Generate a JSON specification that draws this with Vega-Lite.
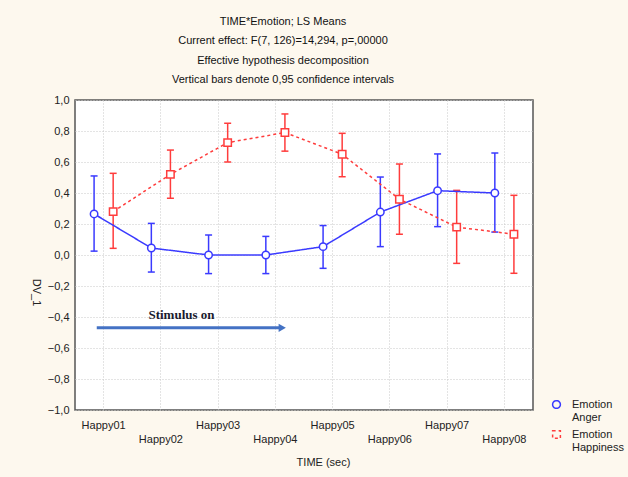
{
  "$schema": "https://vega.github.io/schema/vega-lite/v6.json",
  "width": 458,
  "height": 310,
  "autosize": {"type": "none"},
  "padding": {"left": 75, "top": 100, "right": 95, "bottom": 67},
  "background": "#fdf8ee",
  "config": {
    "view": {"fill": "white", "stroke": "#555555", "strokeWidth": 1.5},
    "font": "Liberation Sans",
    "axisY": {"labelOverlap": false, "tickCount": 10}
  },
  "title": {
    "text": ["TIME*Emotion; LS Means", "Current effect: F(7, 126)=14,294, p=,00000", "Effective hypothesis decomposition", "Vertical bars denote 0,95 confidence intervals"],
    "fontSize": 11,
    "fontWeight": "normal",
    "lineHeight": 19.5,
    "anchor": "middle",
    "frame": "group",
    "dx": -21,
    "offset": 9,
    "color": "#111111"
  },
  "datasets": {
    "means": [
      {"TIME": "Happy01", "Emotion": "Anger", "mean": 0.265, "lo": 0.025, "hi": 0.51},
      {"TIME": "Happy02", "Emotion": "Anger", "mean": 0.045, "lo": -0.11, "hi": 0.204},
      {"TIME": "Happy03", "Emotion": "Anger", "mean": 0.0, "lo": -0.12, "hi": 0.129},
      {"TIME": "Happy04", "Emotion": "Anger", "mean": 0.0, "lo": -0.12, "hi": 0.12},
      {"TIME": "Happy05", "Emotion": "Anger", "mean": 0.054, "lo": -0.086, "hi": 0.19},
      {"TIME": "Happy06", "Emotion": "Anger", "mean": 0.277, "lo": 0.054, "hi": 0.503},
      {"TIME": "Happy07", "Emotion": "Anger", "mean": 0.415, "lo": 0.183, "hi": 0.652},
      {"TIME": "Happy08", "Emotion": "Anger", "mean": 0.40, "lo": 0.148, "hi": 0.658},
      {"TIME": "Happy01", "Emotion": "Happiness", "mean": 0.28, "lo": 0.043, "hi": 0.527},
      {"TIME": "Happy02", "Emotion": "Happiness", "mean": 0.52, "lo": 0.366, "hi": 0.677},
      {"TIME": "Happy03", "Emotion": "Happiness", "mean": 0.725, "lo": 0.60, "hi": 0.85},
      {"TIME": "Happy04", "Emotion": "Happiness", "mean": 0.79, "lo": 0.67, "hi": 0.91},
      {"TIME": "Happy05", "Emotion": "Happiness", "mean": 0.65, "lo": 0.505, "hi": 0.785},
      {"TIME": "Happy06", "Emotion": "Happiness", "mean": 0.36, "lo": 0.134, "hi": 0.587},
      {"TIME": "Happy07", "Emotion": "Happiness", "mean": 0.18, "lo": -0.054, "hi": 0.417},
      {"TIME": "Happy08", "Emotion": "Happiness", "mean": 0.134, "lo": -0.118, "hi": 0.385}
    ],
    "arrow": [
      {"start": 0.38, "end": 3.6, "tip": 3.62, "level": -0.47}
    ],
    "note": [
      {"pos": 1.86, "level": -0.39, "label": "Stimulus on"}
    ]
  },
  "layer": [
    {
      "data": {"name": "means"},
      "encoding": {
        "x": {
          "field": "TIME", "type": "nominal",
          "scale": {"type": "band", "paddingInner": 0, "paddingOuter": 0},
          "axis": {
            "title": "TIME  (sec)",
            "bandPosition": 0.5,
            "labelAngle": 0,
            "labelFontSize": 11,
            "labelColor": "#222222",
            "labelBaseline": "top",
            "labelOverlap": false,
            "labelPadding": {"condition": {"test": "indexof(['Happy02','Happy04','Happy06','Happy08'], datum.value) >= 0", "value": 23}, "value": 9},
            "ticks": false,
            "domain": false,
            "grid": true,
            "gridDash": [1, 2],
            "gridColor": "#c8c8c8",
            "titleFontSize": 11,
            "titleFontWeight": "normal",
            "titleColor": "#222222",
            "titleX": 248,
            "titleY": 52,
            "titleBaseline": "middle",
            "titleAlign": "center"
          }
        },
        "xOffset": {"field": "Emotion", "type": "nominal", "scale": {"type": "point", "padding": 3.1}},
        "color": {
          "field": "Emotion", "type": "nominal",
          "scale": {"domain": ["Anger", "Happiness"], "range": ["#3a3aff", "#ff3c3c"]},
          "legend": {
            "title": null,
            "orient": "none",
            "legendX": 476,
            "legendY": 299,
            "labelExpr": "['Emotion', datum.label]",
            "labelFontSize": 11,
            "labelColor": "#222222",
            "labelOffset": 10,
            "symbolSize": 60,
            "symbolStrokeWidth": 1.5,
            "rowPadding": 4
          }
        }
      },
      "layer": [
        {
          "mark": {"type": "rule", "strokeWidth": 1.5},
          "encoding": {
            "y": {
              "field": "lo", "type": "quantitative",
              "scale": {"domain": [-1, 1], "nice": false},
              "axis": {
                "title": "DV_1",
                "tickCount": 10,
                "labelExpr": "replace(format(datum.value, '.1f'), '.', ',')",
                "labelFontSize": 11,
                "labelColor": "#222222",
                "labelPadding": 6,
                "labelOverlap": false,
                "ticks": false,
                "domain": false,
                "grid": true,
                "gridDash": [1, 2],
                "gridColor": "#c8c8c8",
                "titleAngle": 90,
                "titleFontSize": 11,
                "titleFontWeight": "normal",
                "titleColor": "#222222",
                "titleX": -40,
                "titleY": 192,
                "titleAlign": "center",
                "titleBaseline": "middle"
              }
            },
            "y2": {"field": "hi"}
          }
        },
        {
          "mark": {"type": "point", "shape": "stroke", "filled": false, "size": 49, "strokeWidth": 1.5, "opacity": 1},
          "encoding": {"y": {"field": "lo", "type": "quantitative"}}
        },
        {
          "mark": {"type": "point", "shape": "stroke", "filled": false, "size": 49, "strokeWidth": 1.5, "opacity": 1},
          "encoding": {"y": {"field": "hi", "type": "quantitative"}}
        },
        {
          "mark": {"type": "line", "strokeWidth": 1.5},
          "encoding": {
            "y": {"field": "mean", "type": "quantitative"},
            "strokeDash": {
              "field": "Emotion", "type": "nominal",
              "scale": {"domain": ["Anger", "Happiness"], "range": [[1, 0], [3, 3]]},
              "legend": null
            }
          }
        },
        {
          "mark": {"type": "point", "filled": false, "fill": "white", "strokeWidth": 1.5, "size": 55, "opacity": 1},
          "encoding": {
            "y": {"field": "mean", "type": "quantitative"},
            "shape": {
              "field": "Emotion", "type": "nominal",
              "scale": {"domain": ["Anger", "Happiness"], "range": ["circle", "square"]},
              "legend": {
                "title": null,
                "orient": "none",
                "legendX": 476,
                "legendY": 299,
                "labelExpr": "['Emotion', datum.label]",
                "labelFontSize": 11,
                "labelColor": "#222222",
                "labelOffset": 10,
                "symbolSize": 60,
                "symbolStrokeWidth": 1.5,
                "rowPadding": 4
              }
            }
          }
        }
      ]
    },
    {
      "layer": [
        {
          "data": {"name": "arrow"},
          "mark": {"type": "rule", "strokeWidth": 3, "color": "#4472c4"},
          "encoding": {
            "x": {"field": "start", "type": "quantitative", "scale": {"domain": [0, 8], "nice": false, "zero": false}, "axis": null},
            "x2": {"field": "end"},
            "y": {"field": "level", "type": "quantitative"}
          }
        },
        {
          "data": {"name": "arrow"},
          "mark": {"type": "point", "shape": "triangle-right", "filled": true, "color": "#4472c4", "size": 70, "opacity": 1},
          "encoding": {
            "x": {"field": "tip", "type": "quantitative", "axis": null},
            "y": {"field": "level", "type": "quantitative"}
          }
        },
        {
          "data": {"name": "note"},
          "mark": {"type": "text", "font": "Liberation Serif", "fontWeight": "bold", "fontSize": 13, "color": "#1a1a2e"},
          "encoding": {
            "x": {"field": "pos", "type": "quantitative", "axis": null},
            "y": {"field": "level", "type": "quantitative"},
            "text": {"field": "label"}
          }
        }
      ]
    }
  ],
  "resolve": {"scale": {"x": "independent"}}
}
